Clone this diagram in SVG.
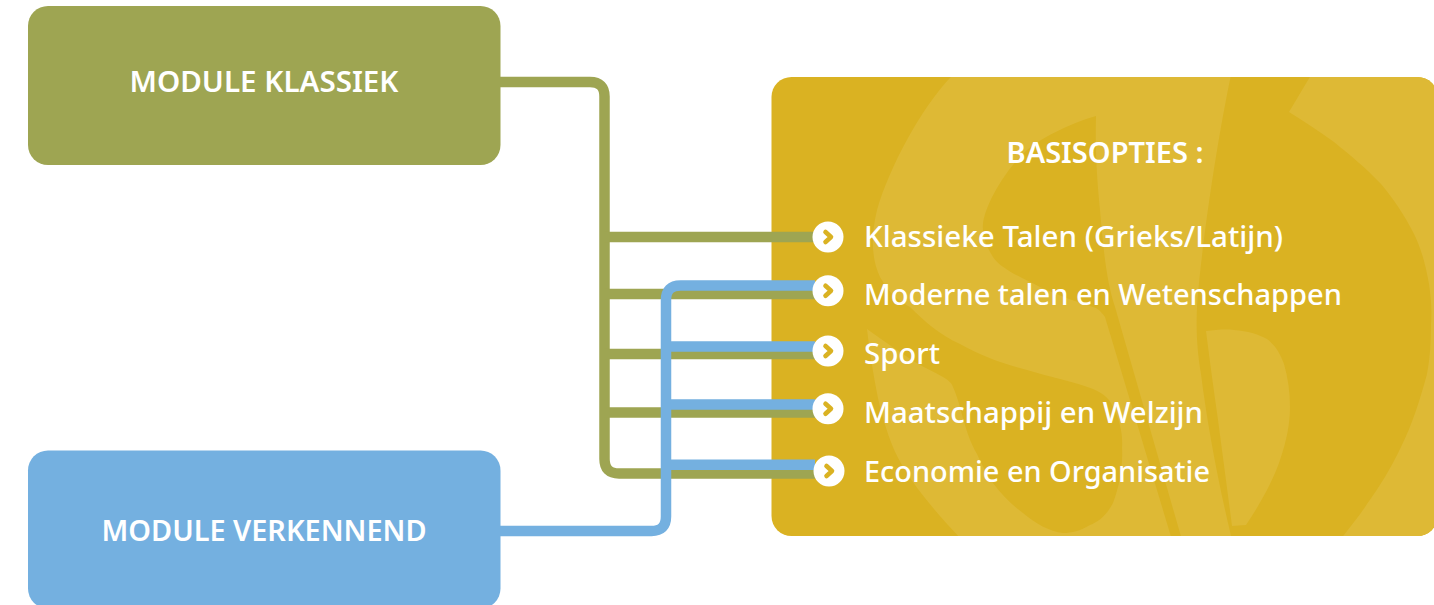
<svg xmlns="http://www.w3.org/2000/svg" width="1434" height="605" viewBox="0 0 1434 605">
<style>
text{font-family:"Noto Sans","Open Sans",sans-serif;fill:#fff;font-weight:500}
.t{font-size:29px;font-weight:600}
.o{font-size:28.5px}
.wm{fill:#DEB935}
.g{fill:none;stroke:#9EA552;stroke-width:10.5}
.b{fill:none;stroke:#74B0E0;stroke-width:10.5}
.c{fill:#fff}
.ch{fill:none;stroke:#DAB222;stroke-width:4.6;stroke-linecap:round;stroke-linejoin:round}
</style>
<defs><clipPath id="card"><rect x="771.5" y="77" width="666" height="459" rx="20"/></clipPath></defs>
<rect width="1434" height="605" fill="#fff"/>
<g id="basisopties">
<rect x="771.5" y="77" width="666" height="459" rx="20" fill="#DAB222"/>
<g clip-path="url(#card)">
<path class="wm" fill-rule="evenodd" d="M958 70C925 100 890 165 877 210C871 235 871 258 880 277C890 295 900 302 910 307C925 322 940 335 960 344C985 358 1005 364 1027 370C1050 377 1075 382 1093 389C1105 394 1110 400 1113 407C1120 420 1123 435 1122 447C1123 465 1120 485 1113 503C1106 516 1098 522 1090 525C1080 531 1072 533 1063 533C1050 532 1035 523 1023 513C1012 505 1001 494 993 483C986 473 981 463 977 454C970 442 966 430 960 407C958 400 956 394 953 387C952 384 950 381 943 377C935 372 925 368 915 362C900 352 885 342 867 329C870 355 875 385 880 407C885 425 890 445 903 467C920 495 945 522 962 540L1172 540L1105 317C1100 310 1097 308 1093 307C1080 303 1060 296 1040 287C1020 277 1000 268 993 257C986 246 982 235 983 224C985 205 1005 170 1027 150C1045 135 1075 122 1096 116C1095 150 1097 180 1100 210C1103 245 1106 280 1115 307L1182 540L1232 540C1220 490 1208 430 1201 374C1197 350 1196 330 1197 307C1200 260 1215 150 1232 70Z"/>
<path class="wm" d="M1206 331C1215 330 1225 329 1234 330C1248 331 1258 334 1267 339C1275 345 1280 353 1284 364C1288 378 1290 392 1290 407C1290 425 1286 442 1281 457C1277 470 1272 480 1267 490C1260 503 1253 515 1246 525L1232 526C1228 495 1222 450 1218 420C1213 385 1209 355 1206 331Z"/>
<path class="wm" d="M1314 70L1289 112C1305 122 1320 132 1334 142C1350 155 1366 168 1381 184C1393 198 1405 216 1414 234C1422 250 1426 267 1429 284C1431 298 1432 310 1431 324C1431 342 1430 358 1427 374C1420 400 1412 425 1401 447C1391 468 1380 486 1367 504C1360 515 1350 527 1340 540L1440 540L1440 70Z"/>
</g>
<text x="1105" y="162.500" text-anchor="middle" class="t" textLength="197" lengthAdjust="spacingAndGlyphs">BASISOPTIES :</text>
<text x="864" y="246.500" class="o" textLength="419" lengthAdjust="spacingAndGlyphs">Klassieke Talen (Grieks/Latijn)</text>
<text x="864" y="304.700" class="o" textLength="478" lengthAdjust="spacingAndGlyphs">Moderne talen en Wetenschappen</text>
<text x="864" y="363.500" class="o" textLength="76" lengthAdjust="spacingAndGlyphs">Sport</text>
<text x="864" y="422.700" class="o" textLength="339" lengthAdjust="spacingAndGlyphs">Maatschappij en Welzijn</text>
<text x="864" y="481.700" class="o" textLength="346" lengthAdjust="spacingAndGlyphs">Economie en Organisatie</text>
</g>
<g id="module-klassiek">
<rect x="28" y="6" width="472.500" height="159" rx="20" fill="#9EA552"/>
<text x="264" y="91.700" text-anchor="middle" class="t" textLength="269" lengthAdjust="spacingAndGlyphs">MODULE KLASSIEK</text>
</g>
<g id="module-verkennend">
<rect x="28" y="450.500" width="472.500" height="158" rx="20" fill="#74B0E0"/>
<text x="264" y="540.500" text-anchor="middle" class="t" textLength="325" lengthAdjust="spacingAndGlyphs">MODULE VERKENNEND</text>
</g>
<g id="connectors">
<path class="g" d="M500 82H590Q604.500 82 604.500 96.500V459Q604.500 473.500 619 473.500H815"/>
<path class="g" d="M604.500 237H815M604.500 294H815M604.500 354H815M604.500 412.500H815"/>
<path class="b" d="M500 531H651.500Q666 531 666 516.500V300Q666 285.500 680.500 285.500H815"/>
<path class="b" d="M666 346.500H815M666 404.500H815M666 464.700H815"/>
</g>
<g id="bullets">
<circle class="c" cx="828" cy="237" r="15.500"/><path class="ch" d="M825.500 232L831 237L825.500 242"/>
<circle class="c" cx="828" cy="290.700" r="15.500"/><path class="ch" d="M825.500 285.700L831 290.700L825.500 295.700"/>
<circle class="c" cx="828" cy="351" r="15.500"/><path class="ch" d="M825.500 346L831 351L825.500 356"/>
<circle class="c" cx="828" cy="408.700" r="15.500"/><path class="ch" d="M825.500 403.700L831 408.700L825.500 413.700"/>
<circle class="c" cx="829" cy="471" r="15.500"/><path class="ch" d="M826.500 466L832 471L826.500 476"/>
</g>
</svg>
